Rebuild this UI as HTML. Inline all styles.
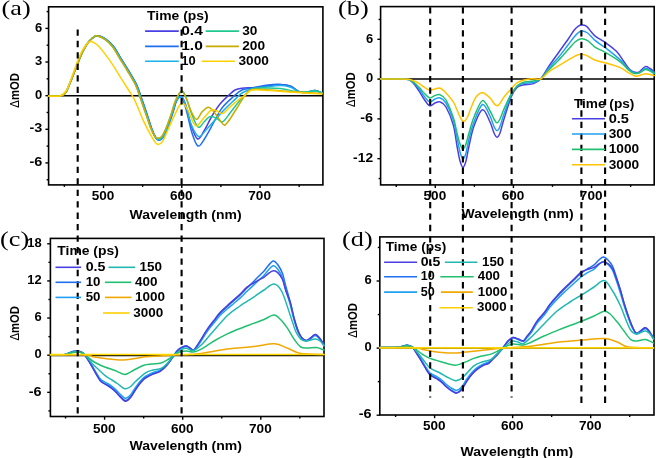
<!DOCTYPE html><html><head><meta charset="utf-8"><style>html,body{margin:0;padding:0;background:#fff;width:656px;height:458px;overflow:hidden}svg{display:block;will-change:transform}</style></head><body>
<svg width="656" height="458" viewBox="0 0 656 458">
<rect width="656" height="458" fill="#fff"/>
<rect x="48.60" y="6.80" width="274.30" height="178.10" fill="none" stroke="#000" stroke-width="1.6"/>
<line x1="45.40" y1="28.39" x2="48.60" y2="28.39" stroke="#000" stroke-width="1.4"/>
<text x="42.20" y="31.59" font-size="12.2" font-weight="bold" font-family="Liberation Sans" text-anchor="end" textLength="7.2" lengthAdjust="spacingAndGlyphs" >6</text>
<line x1="45.40" y1="62.02" x2="48.60" y2="62.02" stroke="#000" stroke-width="1.4"/>
<text x="42.20" y="65.22" font-size="12.2" font-weight="bold" font-family="Liberation Sans" text-anchor="end" textLength="7.2" lengthAdjust="spacingAndGlyphs" >3</text>
<line x1="45.40" y1="95.65" x2="48.60" y2="95.65" stroke="#000" stroke-width="1.4"/>
<text x="42.20" y="98.85" font-size="12.2" font-weight="bold" font-family="Liberation Sans" text-anchor="end" textLength="7.2" lengthAdjust="spacingAndGlyphs" >0</text>
<line x1="45.40" y1="129.28" x2="48.60" y2="129.28" stroke="#000" stroke-width="1.4"/>
<text x="42.20" y="132.48" font-size="12.2" font-weight="bold" font-family="Liberation Sans" text-anchor="end" textLength="12.8" lengthAdjust="spacingAndGlyphs" >-3</text>
<line x1="45.40" y1="162.91" x2="48.60" y2="162.91" stroke="#000" stroke-width="1.4"/>
<text x="42.20" y="166.11" font-size="12.2" font-weight="bold" font-family="Liberation Sans" text-anchor="end" textLength="12.8" lengthAdjust="spacingAndGlyphs" >-6</text>
<line x1="46.60" y1="11.58" x2="48.60" y2="11.58" stroke="#000" stroke-width="1.4"/>
<line x1="46.60" y1="45.20" x2="48.60" y2="45.20" stroke="#000" stroke-width="1.4"/>
<line x1="46.60" y1="78.84" x2="48.60" y2="78.84" stroke="#000" stroke-width="1.4"/>
<line x1="46.60" y1="112.47" x2="48.60" y2="112.47" stroke="#000" stroke-width="1.4"/>
<line x1="46.60" y1="146.10" x2="48.60" y2="146.10" stroke="#000" stroke-width="1.4"/>
<line x1="46.60" y1="179.73" x2="48.60" y2="179.73" stroke="#000" stroke-width="1.4"/>
<line x1="103.50" y1="184.90" x2="103.50" y2="188.10" stroke="#000" stroke-width="1.4"/>
<text x="103.10" y="200.20" font-size="12.2" font-weight="bold" font-family="Liberation Sans" text-anchor="middle" textLength="22.6" lengthAdjust="spacingAndGlyphs" >500</text>
<line x1="181.77" y1="184.90" x2="181.77" y2="188.10" stroke="#000" stroke-width="1.4"/>
<text x="181.37" y="200.20" font-size="12.2" font-weight="bold" font-family="Liberation Sans" text-anchor="middle" textLength="22.6" lengthAdjust="spacingAndGlyphs" >600</text>
<line x1="260.04" y1="184.90" x2="260.04" y2="188.10" stroke="#000" stroke-width="1.4"/>
<text x="259.64" y="200.20" font-size="12.2" font-weight="bold" font-family="Liberation Sans" text-anchor="middle" textLength="22.6" lengthAdjust="spacingAndGlyphs" >700</text>
<line x1="64.37" y1="184.90" x2="64.37" y2="186.90" stroke="#000" stroke-width="1.4"/>
<line x1="142.63" y1="184.90" x2="142.63" y2="186.90" stroke="#000" stroke-width="1.4"/>
<line x1="220.90" y1="184.90" x2="220.90" y2="186.90" stroke="#000" stroke-width="1.4"/>
<line x1="299.17" y1="184.90" x2="299.17" y2="186.90" stroke="#000" stroke-width="1.4"/>
<line x1="48.60" y1="95.65" x2="322.90" y2="95.65" stroke="#000" stroke-width="1.5"/>
<rect x="380.60" y="6.60" width="273.60" height="178.30" fill="none" stroke="#000" stroke-width="1.6"/>
<line x1="377.40" y1="39.32" x2="380.60" y2="39.32" stroke="#000" stroke-width="1.4"/>
<text x="373.10" y="42.52" font-size="12.2" font-weight="bold" font-family="Liberation Sans" text-anchor="end" textLength="7.2" lengthAdjust="spacingAndGlyphs" >6</text>
<line x1="377.40" y1="79.10" x2="380.60" y2="79.10" stroke="#000" stroke-width="1.4"/>
<text x="373.10" y="82.30" font-size="12.2" font-weight="bold" font-family="Liberation Sans" text-anchor="end" textLength="7.2" lengthAdjust="spacingAndGlyphs" >0</text>
<line x1="377.40" y1="118.88" x2="380.60" y2="118.88" stroke="#000" stroke-width="1.4"/>
<text x="373.10" y="122.08" font-size="12.2" font-weight="bold" font-family="Liberation Sans" text-anchor="end" textLength="12.8" lengthAdjust="spacingAndGlyphs" >-6</text>
<line x1="377.40" y1="158.66" x2="380.60" y2="158.66" stroke="#000" stroke-width="1.4"/>
<text x="373.10" y="161.86" font-size="12.2" font-weight="bold" font-family="Liberation Sans" text-anchor="end" textLength="20.0" lengthAdjust="spacingAndGlyphs" >-12</text>
<line x1="378.60" y1="19.43" x2="380.60" y2="19.43" stroke="#000" stroke-width="1.4"/>
<line x1="378.60" y1="59.21" x2="380.60" y2="59.21" stroke="#000" stroke-width="1.4"/>
<line x1="378.60" y1="98.99" x2="380.60" y2="98.99" stroke="#000" stroke-width="1.4"/>
<line x1="378.60" y1="138.77" x2="380.60" y2="138.77" stroke="#000" stroke-width="1.4"/>
<line x1="378.60" y1="178.55" x2="380.60" y2="178.55" stroke="#000" stroke-width="1.4"/>
<line x1="435.30" y1="184.90" x2="435.30" y2="188.10" stroke="#000" stroke-width="1.4"/>
<text x="434.90" y="200.40" font-size="12.2" font-weight="bold" font-family="Liberation Sans" text-anchor="middle" textLength="22.6" lengthAdjust="spacingAndGlyphs" >500</text>
<line x1="513.43" y1="184.90" x2="513.43" y2="188.10" stroke="#000" stroke-width="1.4"/>
<text x="513.03" y="200.40" font-size="12.2" font-weight="bold" font-family="Liberation Sans" text-anchor="middle" textLength="22.6" lengthAdjust="spacingAndGlyphs" >600</text>
<line x1="591.56" y1="184.90" x2="591.56" y2="188.10" stroke="#000" stroke-width="1.4"/>
<text x="591.16" y="200.40" font-size="12.2" font-weight="bold" font-family="Liberation Sans" text-anchor="middle" textLength="22.6" lengthAdjust="spacingAndGlyphs" >700</text>
<line x1="396.24" y1="184.90" x2="396.24" y2="186.90" stroke="#000" stroke-width="1.4"/>
<line x1="474.37" y1="184.90" x2="474.37" y2="186.90" stroke="#000" stroke-width="1.4"/>
<line x1="552.50" y1="184.90" x2="552.50" y2="186.90" stroke="#000" stroke-width="1.4"/>
<line x1="630.62" y1="184.90" x2="630.62" y2="186.90" stroke="#000" stroke-width="1.4"/>
<line x1="380.60" y1="79.10" x2="654.20" y2="79.10" stroke="#000" stroke-width="1.5"/>
<rect x="50.40" y="238.40" width="273.60" height="178.10" fill="none" stroke="#000" stroke-width="1.6"/>
<line x1="47.20" y1="243.78" x2="50.40" y2="243.78" stroke="#000" stroke-width="1.4"/>
<text x="41.60" y="246.98" font-size="12.2" font-weight="bold" font-family="Liberation Sans" text-anchor="end" textLength="14.4" lengthAdjust="spacingAndGlyphs" >18</text>
<line x1="47.20" y1="280.92" x2="50.40" y2="280.92" stroke="#000" stroke-width="1.4"/>
<text x="41.60" y="284.12" font-size="12.2" font-weight="bold" font-family="Liberation Sans" text-anchor="end" textLength="14.4" lengthAdjust="spacingAndGlyphs" >12</text>
<line x1="47.20" y1="318.06" x2="50.40" y2="318.06" stroke="#000" stroke-width="1.4"/>
<text x="41.60" y="321.26" font-size="12.2" font-weight="bold" font-family="Liberation Sans" text-anchor="end" textLength="7.2" lengthAdjust="spacingAndGlyphs" >6</text>
<line x1="47.20" y1="355.20" x2="50.40" y2="355.20" stroke="#000" stroke-width="1.4"/>
<text x="41.60" y="358.40" font-size="12.2" font-weight="bold" font-family="Liberation Sans" text-anchor="end" textLength="7.2" lengthAdjust="spacingAndGlyphs" >0</text>
<line x1="47.20" y1="392.34" x2="50.40" y2="392.34" stroke="#000" stroke-width="1.4"/>
<text x="41.60" y="395.54" font-size="12.2" font-weight="bold" font-family="Liberation Sans" text-anchor="end" textLength="12.8" lengthAdjust="spacingAndGlyphs" >-6</text>
<line x1="48.40" y1="262.35" x2="50.40" y2="262.35" stroke="#000" stroke-width="1.4"/>
<line x1="48.40" y1="299.49" x2="50.40" y2="299.49" stroke="#000" stroke-width="1.4"/>
<line x1="48.40" y1="336.63" x2="50.40" y2="336.63" stroke="#000" stroke-width="1.4"/>
<line x1="48.40" y1="373.77" x2="50.40" y2="373.77" stroke="#000" stroke-width="1.4"/>
<line x1="48.40" y1="410.91" x2="50.40" y2="410.91" stroke="#000" stroke-width="1.4"/>
<line x1="104.60" y1="416.50" x2="104.60" y2="419.70" stroke="#000" stroke-width="1.4"/>
<text x="104.20" y="432.60" font-size="12.2" font-weight="bold" font-family="Liberation Sans" text-anchor="middle" textLength="22.6" lengthAdjust="spacingAndGlyphs" >500</text>
<line x1="182.70" y1="416.50" x2="182.70" y2="419.70" stroke="#000" stroke-width="1.4"/>
<text x="182.30" y="432.60" font-size="12.2" font-weight="bold" font-family="Liberation Sans" text-anchor="middle" textLength="22.6" lengthAdjust="spacingAndGlyphs" >600</text>
<line x1="260.80" y1="416.50" x2="260.80" y2="419.70" stroke="#000" stroke-width="1.4"/>
<text x="260.40" y="432.60" font-size="12.2" font-weight="bold" font-family="Liberation Sans" text-anchor="middle" textLength="22.6" lengthAdjust="spacingAndGlyphs" >700</text>
<line x1="65.55" y1="416.50" x2="65.55" y2="418.50" stroke="#000" stroke-width="1.4"/>
<line x1="143.65" y1="416.50" x2="143.65" y2="418.50" stroke="#000" stroke-width="1.4"/>
<line x1="221.75" y1="416.50" x2="221.75" y2="418.50" stroke="#000" stroke-width="1.4"/>
<line x1="299.85" y1="416.50" x2="299.85" y2="418.50" stroke="#000" stroke-width="1.4"/>
<line x1="50.40" y1="355.60" x2="324.00" y2="355.60" stroke="#000" stroke-width="1.5"/>
<rect x="379.80" y="236.90" width="274.20" height="178.10" fill="none" stroke="#000" stroke-width="1.6"/>
<line x1="376.60" y1="281.02" x2="379.80" y2="281.02" stroke="#000" stroke-width="1.4"/>
<text x="371.60" y="284.22" font-size="12.2" font-weight="bold" font-family="Liberation Sans" text-anchor="end" textLength="7.2" lengthAdjust="spacingAndGlyphs" >6</text>
<line x1="376.60" y1="348.10" x2="379.80" y2="348.10" stroke="#000" stroke-width="1.4"/>
<text x="371.60" y="351.30" font-size="12.2" font-weight="bold" font-family="Liberation Sans" text-anchor="end" textLength="7.2" lengthAdjust="spacingAndGlyphs" >0</text>
<line x1="376.60" y1="415.18" x2="379.80" y2="415.18" stroke="#000" stroke-width="1.4"/>
<text x="371.60" y="418.38" font-size="12.2" font-weight="bold" font-family="Liberation Sans" text-anchor="end" textLength="12.8" lengthAdjust="spacingAndGlyphs" >-6</text>
<line x1="377.80" y1="247.48" x2="379.80" y2="247.48" stroke="#000" stroke-width="1.4"/>
<line x1="377.80" y1="314.56" x2="379.80" y2="314.56" stroke="#000" stroke-width="1.4"/>
<line x1="377.80" y1="381.64" x2="379.80" y2="381.64" stroke="#000" stroke-width="1.4"/>
<line x1="434.60" y1="415.00" x2="434.60" y2="418.20" stroke="#000" stroke-width="1.4"/>
<text x="434.20" y="430.20" font-size="12.2" font-weight="bold" font-family="Liberation Sans" text-anchor="middle" textLength="22.6" lengthAdjust="spacingAndGlyphs" >500</text>
<line x1="512.63" y1="415.00" x2="512.63" y2="418.20" stroke="#000" stroke-width="1.4"/>
<text x="512.23" y="430.20" font-size="12.2" font-weight="bold" font-family="Liberation Sans" text-anchor="middle" textLength="22.6" lengthAdjust="spacingAndGlyphs" >600</text>
<line x1="590.66" y1="415.00" x2="590.66" y2="418.20" stroke="#000" stroke-width="1.4"/>
<text x="590.26" y="430.20" font-size="12.2" font-weight="bold" font-family="Liberation Sans" text-anchor="middle" textLength="22.6" lengthAdjust="spacingAndGlyphs" >700</text>
<line x1="395.59" y1="415.00" x2="395.59" y2="417.00" stroke="#000" stroke-width="1.4"/>
<line x1="473.62" y1="415.00" x2="473.62" y2="417.00" stroke="#000" stroke-width="1.4"/>
<line x1="551.64" y1="415.00" x2="551.64" y2="417.00" stroke="#000" stroke-width="1.4"/>
<line x1="629.67" y1="415.00" x2="629.67" y2="417.00" stroke="#000" stroke-width="1.4"/>
<line x1="379.80" y1="348.10" x2="654.00" y2="348.10" stroke="#000" stroke-width="1.5"/>
<path d="M48.60 96.00 C50.17 96.00 55.77 96.08 58.00 96.00 C60.23 95.92 60.67 96.17 62.00 95.50 C63.33 94.83 64.67 94.08 66.00 92.00 C67.33 89.92 68.67 86.17 70.00 83.00 C71.33 79.83 72.75 76.17 74.00 73.00 C75.25 69.83 76.17 67.33 77.50 64.00 C78.83 60.67 80.42 56.33 82.00 53.00 C83.58 49.67 85.33 46.42 87.00 44.00 C88.67 41.58 90.25 39.87 92.00 38.50 C93.75 37.13 95.25 35.68 97.50 35.80 C99.75 35.92 102.83 37.37 105.50 39.20 C108.17 41.03 110.92 43.50 113.50 46.80 C116.08 50.10 118.50 54.97 121.00 59.00 C123.50 63.03 125.92 66.67 128.50 71.00 C131.08 75.33 134.50 80.83 136.50 85.00 C138.50 89.17 139.33 92.77 140.50 96.00 C141.67 99.23 142.33 101.00 143.50 104.40 C144.67 107.80 146.17 112.40 147.50 116.41 C148.83 120.43 150.17 125.02 151.50 128.50 C152.83 131.98 154.33 135.37 155.50 137.29 C156.67 139.20 157.33 139.90 158.50 140.00 C159.67 140.10 161.05 139.85 162.50 137.91 C163.95 135.98 165.53 132.53 167.20 128.38 C168.87 124.23 170.95 117.65 172.50 113.00 C174.05 108.35 175.00 103.25 176.50 100.50 C178.00 97.75 179.92 95.58 181.50 96.50 C183.08 97.42 184.42 101.25 186.00 106.00 C187.58 110.75 189.08 119.50 191.00 125.00 C192.92 130.50 195.33 138.00 197.50 139.00 C199.67 140.00 201.58 134.83 204.00 131.00 C206.42 127.17 209.33 120.50 212.00 116.00 C214.67 111.50 217.25 107.42 220.00 104.00 C222.75 100.58 226.00 97.83 228.50 95.50 C231.00 93.17 232.75 91.22 235.00 90.00 C237.25 88.78 238.67 88.62 242.00 88.20 C245.33 87.78 250.67 87.87 255.00 87.50 C259.33 87.13 263.83 86.50 268.00 86.00 C272.17 85.50 276.33 84.50 280.00 84.50 C283.67 84.50 286.67 84.75 290.00 86.00 C293.33 87.25 297.00 91.00 300.00 92.00 C303.00 93.00 305.50 92.25 308.00 92.00 C310.50 91.75 312.67 90.33 315.00 90.50 C317.33 90.67 320.83 92.58 322.00 93.00" fill="none" stroke="#4a3fe0" stroke-width="1.5" stroke-linejoin="round" stroke-linecap="round"/>
<path d="M48.60 96.00 C50.17 96.00 55.77 96.08 58.00 96.00 C60.23 95.92 60.67 96.17 62.00 95.50 C63.33 94.83 64.67 94.08 66.00 92.00 C67.33 89.92 68.67 86.17 70.00 83.00 C71.33 79.83 72.75 76.17 74.00 73.00 C75.25 69.83 76.17 67.33 77.50 64.00 C78.83 60.67 80.42 56.33 82.00 53.00 C83.58 49.67 85.33 46.42 87.00 44.00 C88.67 41.58 90.20 39.87 92.00 38.50 C93.80 37.13 95.50 35.68 97.80 35.80 C100.10 35.92 103.13 37.37 105.80 39.20 C108.47 41.03 111.22 43.50 113.80 46.80 C116.38 50.10 118.80 54.97 121.30 59.00 C123.80 63.03 126.22 66.67 128.80 71.00 C131.38 75.33 134.80 80.83 136.80 85.00 C138.80 89.17 139.63 92.77 140.80 96.00 C141.97 99.23 142.63 100.99 143.80 104.40 C144.97 107.81 146.47 112.44 147.80 116.48 C149.13 120.52 150.47 125.14 151.80 128.65 C153.13 132.16 154.63 135.58 155.80 137.52 C156.97 139.46 157.63 140.20 158.80 140.30 C159.97 140.40 161.35 140.10 162.80 138.13 C164.25 136.16 165.83 132.68 167.50 128.49 C169.17 124.30 171.25 117.67 172.80 113.00 C174.35 108.33 175.35 103.08 176.80 100.50 C178.25 97.92 179.97 96.08 181.50 97.50 C183.03 98.92 184.25 103.08 186.00 109.00 C187.75 114.92 190.00 126.83 192.00 133.00 C194.00 139.17 195.83 145.17 198.00 146.00 C200.17 146.83 202.33 142.00 205.00 138.00 C207.67 134.00 211.17 127.00 214.00 122.00 C216.83 117.00 218.83 112.17 222.00 108.00 C225.17 103.83 229.67 100.00 233.00 97.00 C236.33 94.00 238.33 91.58 242.00 90.00 C245.67 88.42 250.67 88.33 255.00 87.50 C259.33 86.67 263.83 85.52 268.00 85.00 C272.17 84.48 276.33 84.23 280.00 84.40 C283.67 84.57 286.67 84.73 290.00 86.00 C293.33 87.27 297.00 91.00 300.00 92.00 C303.00 93.00 305.50 92.25 308.00 92.00 C310.50 91.75 312.67 90.33 315.00 90.50 C317.33 90.67 320.83 92.58 322.00 93.00" fill="none" stroke="#1f6ff0" stroke-width="1.5" stroke-linejoin="round" stroke-linecap="round"/>
<path d="M48.60 96.00 C50.17 96.00 55.77 96.08 58.00 96.00 C60.23 95.92 60.67 96.17 62.00 95.50 C63.33 94.83 64.67 94.08 66.00 92.00 C67.33 89.92 68.67 86.17 70.00 83.00 C71.33 79.83 72.75 76.17 74.00 73.00 C75.25 69.83 76.17 67.33 77.50 64.00 C78.83 60.67 80.42 56.33 82.00 53.00 C83.58 49.67 85.33 46.42 87.00 44.00 C88.67 41.58 90.28 39.87 92.00 38.50 C93.72 37.13 95.08 35.68 97.30 35.80 C99.52 35.92 102.63 37.37 105.30 39.20 C107.97 41.03 110.72 43.50 113.30 46.80 C115.88 50.10 118.30 54.97 120.80 59.00 C123.30 63.03 125.72 66.67 128.30 71.00 C130.88 75.33 134.30 80.83 136.30 85.00 C138.30 89.17 139.13 92.77 140.30 96.00 C141.47 99.23 142.13 101.01 143.30 104.40 C144.47 107.79 145.97 112.36 147.30 116.35 C148.63 120.34 149.97 124.90 151.30 128.35 C152.63 131.80 154.13 135.16 155.30 137.05 C156.47 138.94 157.13 139.59 158.30 139.70 C159.47 139.81 160.85 139.61 162.30 137.70 C163.75 135.79 165.33 132.38 167.00 128.26 C168.67 124.15 170.75 117.63 172.30 113.00 C173.85 108.37 174.77 103.17 176.30 100.50 C177.83 97.83 179.88 96.08 181.50 97.00 C183.12 97.92 184.42 101.50 186.00 106.00 C187.58 110.50 188.90 118.92 191.00 124.00 C193.10 129.08 196.10 135.50 198.60 136.50 C201.10 137.50 203.27 132.75 206.00 130.00 C208.73 127.25 211.83 123.50 215.00 120.00 C218.17 116.50 221.67 112.43 225.00 109.00 C228.33 105.57 232.17 102.07 235.00 99.40 C237.83 96.73 239.17 94.73 242.00 93.00 C244.83 91.27 248.17 90.00 252.00 89.00 C255.83 88.00 260.33 87.58 265.00 87.00 C269.67 86.42 275.83 85.50 280.00 85.50 C284.17 85.50 286.67 85.92 290.00 87.00 C293.33 88.08 297.00 91.17 300.00 92.00 C303.00 92.83 305.50 92.25 308.00 92.00 C310.50 91.75 312.67 90.33 315.00 90.50 C317.33 90.67 320.83 92.58 322.00 93.00" fill="none" stroke="#1ab0e8" stroke-width="1.5" stroke-linejoin="round" stroke-linecap="round"/>
<path d="M48.60 96.00 C50.17 96.00 55.77 96.08 58.00 96.00 C60.23 95.92 60.67 96.17 62.00 95.50 C63.33 94.83 64.67 94.08 66.00 92.00 C67.33 89.92 68.67 86.17 70.00 83.00 C71.33 79.83 72.75 76.17 74.00 73.00 C75.25 69.83 76.17 67.33 77.50 64.00 C78.83 60.67 80.42 56.33 82.00 53.00 C83.58 49.67 85.33 46.42 87.00 44.00 C88.67 41.58 90.38 39.87 92.00 38.50 C93.62 37.13 94.58 35.68 96.70 35.80 C98.82 35.92 102.03 37.37 104.70 39.20 C107.37 41.03 110.12 43.50 112.70 46.80 C115.28 50.10 117.70 54.97 120.20 59.00 C122.70 63.03 125.12 66.67 127.70 71.00 C130.28 75.33 133.70 80.83 135.70 85.00 C137.70 89.17 138.53 92.77 139.70 96.00 C140.87 99.23 141.53 101.05 142.70 104.40 C143.87 107.75 145.37 112.19 146.70 116.07 C148.03 119.95 149.37 124.37 150.70 127.70 C152.03 131.03 153.53 134.25 154.70 136.03 C155.87 137.81 156.53 138.28 157.70 138.40 C158.87 138.52 160.25 138.54 161.70 136.77 C163.15 135.00 164.73 131.73 166.40 127.77 C168.07 123.81 170.15 117.55 171.70 113.00 C173.25 108.45 174.02 104.12 175.70 100.50 C177.38 96.88 180.08 91.88 181.80 91.30 C183.52 90.72 184.47 93.55 186.00 97.00 C187.53 100.45 189.00 107.00 191.00 112.00 C193.00 117.00 195.83 125.33 198.00 127.00 C200.17 128.67 202.03 123.73 204.00 122.00 C205.97 120.27 207.80 117.27 209.80 116.60 C211.80 115.93 213.88 117.13 216.00 118.00 C218.12 118.87 220.17 122.63 222.50 121.80 C224.83 120.97 227.58 115.97 230.00 113.00 C232.42 110.03 234.58 106.92 237.00 104.00 C239.42 101.08 242.00 98.00 244.50 95.50 C247.00 93.00 248.58 90.25 252.00 89.00 C255.42 87.75 260.33 88.08 265.00 88.00 C269.67 87.92 274.17 87.83 280.00 88.50 C285.83 89.17 294.17 91.58 300.00 92.00 C305.83 92.42 311.33 90.83 315.00 91.00 C318.67 91.17 320.83 92.67 322.00 93.00" fill="none" stroke="#20c890" stroke-width="1.5" stroke-linejoin="round" stroke-linecap="round"/>
<path d="M48.60 96.00 C50.17 96.00 55.77 96.08 58.00 96.00 C60.23 95.92 60.67 96.17 62.00 95.50 C63.33 94.83 64.67 94.08 66.00 92.00 C67.33 89.92 68.67 86.17 70.00 83.00 C71.33 79.83 72.75 76.17 74.00 73.00 C75.25 69.83 76.17 67.33 77.50 64.00 C78.83 60.67 80.42 56.33 82.00 53.00 C83.58 49.67 85.33 46.42 87.00 44.00 C88.67 41.58 90.42 39.87 92.00 38.50 C93.58 37.13 94.42 35.68 96.50 35.80 C98.58 35.92 101.83 37.37 104.50 39.20 C107.17 41.03 109.92 43.50 112.50 46.80 C115.08 50.10 117.50 54.97 120.00 59.00 C122.50 63.03 124.92 66.67 127.50 71.00 C130.08 75.33 133.50 80.83 135.50 85.00 C137.50 89.17 138.33 92.77 139.50 96.00 C140.67 99.23 141.33 101.06 142.50 104.40 C143.67 107.74 145.17 112.16 146.50 116.03 C147.83 119.90 149.17 124.29 150.50 127.60 C151.83 130.91 153.33 134.10 154.50 135.87 C155.67 137.64 156.33 138.07 157.50 138.20 C158.67 138.33 160.05 138.38 161.50 136.63 C162.95 134.88 164.53 131.64 166.20 127.70 C167.87 123.76 169.95 117.53 171.50 113.00 C173.05 108.47 173.83 104.17 175.50 100.50 C177.17 96.83 179.75 91.42 181.50 91.00 C183.25 90.58 184.42 94.67 186.00 98.00 C187.58 101.33 189.25 107.45 191.00 111.00 C192.75 114.55 194.67 119.13 196.50 119.30 C198.33 119.47 200.02 114.00 202.00 112.00 C203.98 110.00 206.40 107.30 208.40 107.30 C210.40 107.30 211.53 109.17 214.00 112.00 C216.47 114.83 221.20 122.30 223.20 124.30 C225.20 126.30 224.87 124.88 226.00 124.00 C227.13 123.12 228.17 121.67 230.00 119.00 C231.83 116.33 234.50 111.92 237.00 108.00 C239.50 104.08 242.50 98.58 245.00 95.50 C247.50 92.42 247.83 90.42 252.00 89.50 C256.17 88.58 263.67 89.67 270.00 90.00 C276.33 90.33 281.33 90.92 290.00 91.50 C298.67 92.08 316.67 93.17 322.00 93.50" fill="none" stroke="#c8ac00" stroke-width="1.5" stroke-linejoin="round" stroke-linecap="round"/>
<path d="M48.60 96.00 C50.50 96.00 57.10 96.83 60.00 96.00 C62.90 95.17 64.33 93.33 66.00 91.00 C67.67 88.67 68.67 85.33 70.00 82.00 C71.33 78.67 72.67 74.67 74.00 71.00 C75.33 67.33 76.67 63.33 78.00 60.00 C79.33 56.67 80.67 53.50 82.00 51.00 C83.33 48.50 84.57 46.60 86.00 45.00 C87.43 43.40 88.67 41.35 90.60 41.40 C92.53 41.45 95.15 43.13 97.60 45.30 C100.05 47.47 102.75 51.10 105.30 54.40 C107.85 57.70 110.37 61.28 112.90 65.10 C115.43 68.92 117.95 73.23 120.50 77.30 C123.05 81.37 126.17 86.32 128.20 89.50 C130.23 92.68 131.30 93.92 132.70 96.40 C134.10 98.88 134.87 100.45 136.60 104.40 C138.33 108.35 140.92 115.30 143.10 120.10 C145.28 124.90 147.73 129.58 149.70 133.20 C151.67 136.82 153.48 139.93 154.90 141.80 C156.32 143.67 156.88 144.52 158.20 144.40 C159.52 144.28 160.95 144.05 162.80 141.10 C164.65 138.15 167.12 131.50 169.30 126.70 C171.48 121.90 173.82 116.23 175.90 112.30 C177.98 108.37 179.83 103.53 181.80 103.10 C183.77 102.67 185.83 106.55 187.70 109.70 C189.57 112.85 191.45 119.28 193.00 122.00 C194.55 124.72 195.33 126.50 197.00 126.00 C198.67 125.50 200.62 121.63 203.00 119.00 C205.38 116.37 208.97 111.53 211.30 110.20 C213.63 108.87 215.13 110.43 217.00 111.00 C218.87 111.57 220.33 114.27 222.50 113.60 C224.67 112.93 227.58 109.10 230.00 107.00 C232.42 104.90 234.50 102.92 237.00 101.00 C239.50 99.08 242.50 97.33 245.00 95.50 C247.50 93.67 247.83 90.83 252.00 90.00 C256.17 89.17 263.67 90.17 270.00 90.50 C276.33 90.83 281.33 91.42 290.00 92.00 C298.67 92.58 316.67 93.67 322.00 94.00" fill="none" stroke="#ffd000" stroke-width="1.5" stroke-linejoin="round" stroke-linecap="round"/>
<path d="M380.60 79.00 C383.83 79.00 395.30 78.92 400.00 79.00 C404.70 79.08 406.47 78.67 408.80 79.50 C411.13 80.33 412.25 82.02 414.00 84.00 C415.75 85.98 417.63 88.90 419.30 91.40 C420.97 93.90 422.27 96.60 424.00 99.00 C425.73 101.40 427.87 105.13 429.70 105.80 C431.53 106.47 433.25 103.65 435.00 103.00 C436.75 102.35 438.37 101.23 440.20 101.90 C442.03 102.57 443.82 103.15 446.00 107.00 C448.18 110.85 451.47 118.50 453.30 125.00 C455.13 131.50 455.88 140.00 457.00 146.00 C458.12 152.00 459.00 157.45 460.00 161.00 C461.00 164.55 462.00 167.30 463.00 167.30 C464.00 167.30 465.00 164.55 466.00 161.00 C467.00 157.45 467.67 151.83 469.00 146.00 C470.33 140.17 471.75 132.05 474.00 126.00 C476.25 119.95 479.83 110.37 482.50 109.70 C485.17 109.03 488.08 118.12 490.00 122.00 C491.92 125.88 492.83 130.47 494.00 133.00 C495.17 135.53 496.00 137.20 497.00 137.20 C498.00 137.20 498.83 136.03 500.00 133.00 C501.17 129.97 502.12 125.07 504.00 119.00 C505.88 112.93 509.13 101.85 511.30 96.60 C513.47 91.35 515.05 89.45 517.00 87.50 C518.95 85.55 520.25 85.55 523.00 84.90 C525.75 84.25 530.57 84.58 533.50 83.60 C536.43 82.62 537.98 81.98 540.60 79.00 C543.22 76.02 546.17 70.17 549.20 65.70 C552.23 61.23 555.60 56.68 558.80 52.20 C562.00 47.72 565.85 42.47 568.40 38.80 C570.95 35.13 572.50 32.28 574.10 30.20 C575.70 28.12 576.72 27.17 578.00 26.30 C579.28 25.43 580.37 25.00 581.80 25.00 C583.23 25.00 585.00 25.12 586.60 26.30 C588.20 27.48 589.80 30.33 591.40 32.10 C593.00 33.87 593.95 35.22 596.20 36.90 C598.45 38.58 601.53 39.80 604.90 42.20 C608.27 44.60 613.22 48.03 616.40 51.30 C619.58 54.57 621.77 58.77 624.00 61.80 C626.23 64.83 627.87 67.73 629.80 69.50 C631.73 71.27 634.00 72.02 635.60 72.40 C637.20 72.78 637.80 72.77 639.40 71.80 C641.00 70.83 643.43 67.15 645.20 66.60 C646.97 66.05 648.50 67.63 650.00 68.50 C651.50 69.37 653.50 71.25 654.20 71.80" fill="none" stroke="#4a3fe0" stroke-width="1.5" stroke-linejoin="round" stroke-linecap="round"/>
<path d="M380.60 79.00 C383.83 79.00 395.30 78.92 400.00 79.00 C404.70 79.08 406.47 78.83 408.80 79.50 C411.13 80.17 412.25 81.42 414.00 83.00 C415.75 84.58 417.63 86.83 419.30 89.00 C420.97 91.17 422.27 93.85 424.00 96.00 C425.73 98.15 427.87 101.40 429.70 101.90 C431.53 102.40 433.25 99.65 435.00 99.00 C436.75 98.35 438.37 97.33 440.20 98.00 C442.03 98.67 443.82 99.33 446.00 103.00 C448.18 106.67 451.47 114.17 453.30 120.00 C455.13 125.83 455.88 132.67 457.00 138.00 C458.12 143.33 459.00 148.50 460.00 152.00 C461.00 155.50 462.00 158.83 463.00 159.00 C464.00 159.17 465.00 156.33 466.00 153.00 C467.00 149.67 467.67 144.17 469.00 139.00 C470.33 133.83 471.75 127.75 474.00 122.00 C476.25 116.25 479.83 105.50 482.50 104.50 C485.17 103.50 488.08 112.33 490.00 116.00 C491.92 119.67 492.83 124.05 494.00 126.50 C495.17 128.95 496.00 130.70 497.00 130.70 C498.00 130.70 498.83 129.28 500.00 126.50 C501.17 123.72 502.12 119.25 504.00 114.00 C505.88 108.75 509.13 99.67 511.30 95.00 C513.47 90.33 515.05 87.92 517.00 86.00 C518.95 84.08 520.25 84.08 523.00 83.50 C525.75 82.92 530.57 83.25 533.50 82.50 C536.43 81.75 537.98 81.50 540.60 79.00 C543.22 76.50 546.17 71.17 549.20 67.50 C552.23 63.83 555.60 60.83 558.80 57.00 C562.00 53.17 565.70 48.00 568.40 44.50 C571.10 41.00 572.87 38.23 575.00 36.00 C577.13 33.77 579.10 31.60 581.20 31.10 C583.30 30.60 585.25 31.40 587.60 33.00 C589.95 34.60 592.42 38.30 595.30 40.70 C598.18 43.10 600.75 44.20 604.90 47.40 C609.05 50.60 616.37 56.38 620.20 59.90 C624.03 63.42 625.33 66.27 627.90 68.50 C630.47 70.73 633.58 72.63 635.60 73.30 C637.62 73.97 638.40 73.30 640.00 72.50 C641.60 71.70 643.53 68.92 645.20 68.50 C646.87 68.08 648.50 69.25 650.00 70.00 C651.50 70.75 653.50 72.50 654.20 73.00" fill="none" stroke="#20a0f0" stroke-width="1.5" stroke-linejoin="round" stroke-linecap="round"/>
<path d="M380.60 79.00 C383.83 79.00 395.30 78.92 400.00 79.00 C404.70 79.08 406.47 78.92 408.80 79.50 C411.13 80.08 412.25 81.17 414.00 82.50 C415.75 83.83 417.63 85.75 419.30 87.50 C420.97 89.25 422.27 91.25 424.00 93.00 C425.73 94.75 427.87 97.58 429.70 98.00 C431.53 98.42 433.25 96.03 435.00 95.50 C436.75 94.97 438.37 94.05 440.20 94.80 C442.03 95.55 443.82 96.20 446.00 100.00 C448.18 103.80 451.47 112.10 453.30 117.60 C455.13 123.10 455.88 128.60 457.00 133.00 C458.12 137.40 459.02 141.33 460.00 144.00 C460.98 146.67 461.90 149.00 462.90 149.00 C463.90 149.00 464.98 146.67 466.00 144.00 C467.02 141.33 467.67 137.50 469.00 133.00 C470.33 128.50 471.75 122.40 474.00 117.00 C476.25 111.60 479.83 101.60 482.50 100.60 C485.17 99.60 488.08 107.93 490.00 111.00 C491.92 114.07 492.83 117.03 494.00 119.00 C495.17 120.97 496.00 122.80 497.00 122.80 C498.00 122.80 498.83 121.30 500.00 119.00 C501.17 116.70 502.12 113.17 504.00 109.00 C505.88 104.83 508.57 98.23 511.30 94.00 C514.03 89.77 516.70 85.77 520.40 83.60 C524.10 81.43 530.13 81.77 533.50 81.00 C536.87 80.23 537.98 80.92 540.60 79.00 C543.22 77.08 546.17 72.68 549.20 69.50 C552.23 66.32 555.60 63.27 558.80 59.90 C562.00 56.53 565.70 52.28 568.40 49.30 C571.10 46.32 572.87 43.75 575.00 42.00 C577.13 40.25 579.10 39.02 581.20 38.80 C583.30 38.58 585.25 39.27 587.60 40.70 C589.95 42.13 592.42 45.48 595.30 47.40 C598.18 49.32 600.75 49.80 604.90 52.20 C609.05 54.60 616.37 58.92 620.20 61.80 C624.03 64.68 625.67 67.58 627.90 69.50 C630.13 71.42 631.58 72.80 633.60 73.30 C635.62 73.80 638.07 73.13 640.00 72.50 C641.93 71.87 643.53 69.75 645.20 69.50 C646.87 69.25 648.50 70.33 650.00 71.00 C651.50 71.67 653.50 73.08 654.20 73.50" fill="none" stroke="#20c070" stroke-width="1.5" stroke-linejoin="round" stroke-linecap="round"/>
<path d="M380.60 79.00 C383.83 79.00 395.30 78.95 400.00 79.00 C404.70 79.05 406.47 78.97 408.80 79.30 C411.13 79.63 412.25 80.28 414.00 81.00 C415.75 81.72 417.63 82.60 419.30 83.60 C420.97 84.60 422.27 85.92 424.00 87.00 C425.73 88.08 427.87 89.77 429.70 90.10 C431.53 90.43 433.25 89.30 435.00 89.00 C436.75 88.70 438.37 87.63 440.20 88.30 C442.03 88.97 443.82 90.73 446.00 93.00 C448.18 95.27 451.47 99.07 453.30 101.90 C455.13 104.73 455.80 107.32 457.00 110.00 C458.20 112.68 459.33 116.08 460.50 118.00 C461.67 119.92 462.83 121.67 464.00 121.50 C465.17 121.33 466.33 119.25 467.50 117.00 C468.67 114.75 469.58 111.33 471.00 108.00 C472.42 104.67 474.08 99.55 476.00 97.00 C477.92 94.45 480.17 92.53 482.50 92.70 C484.83 92.87 488.08 96.20 490.00 98.00 C491.92 99.80 492.83 102.20 494.00 103.50 C495.17 104.80 496.00 105.80 497.00 105.80 C498.00 105.80 498.83 104.97 500.00 103.50 C501.17 102.03 502.12 99.45 504.00 97.00 C505.88 94.55 509.00 91.25 511.30 88.80 C513.60 86.35 514.53 83.97 517.80 82.30 C521.07 80.63 527.10 79.35 530.90 78.80 C534.70 78.25 537.55 80.23 540.60 79.00 C543.65 77.77 546.17 73.62 549.20 71.40 C552.23 69.18 555.60 67.62 558.80 65.70 C562.00 63.78 565.87 61.42 568.40 59.90 C570.93 58.38 572.40 57.45 574.00 56.60 C575.60 55.75 576.75 55.20 578.00 54.80 C579.25 54.40 580.33 54.18 581.50 54.20 C582.67 54.22 583.58 54.38 585.00 54.90 C586.42 55.42 588.28 56.40 590.00 57.30 C591.72 58.20 592.82 59.38 595.30 60.30 C597.78 61.22 600.75 61.58 604.90 62.80 C609.05 64.02 616.37 66.00 620.20 67.60 C624.03 69.20 625.33 70.97 627.90 72.40 C630.47 73.83 633.42 75.77 635.60 76.20 C637.78 76.63 639.25 75.42 641.00 75.00 C642.75 74.58 643.90 73.60 646.10 73.70 C648.30 73.80 652.85 75.28 654.20 75.60" fill="none" stroke="#ffc400" stroke-width="1.5" stroke-linejoin="round" stroke-linecap="round"/>
<path d="M50.50 355.00 C52.42 355.00 59.08 355.25 62.00 355.00 C64.92 354.75 66.17 354.08 68.00 353.50 C69.83 352.92 71.38 351.92 73.00 351.50 C74.62 351.08 76.20 350.83 77.70 351.00 C79.20 351.17 80.78 351.83 82.00 352.50 C83.22 353.17 83.83 353.58 85.00 355.00 C86.17 356.42 87.72 358.95 89.00 361.00 C90.28 363.05 91.37 364.97 92.70 367.30 C94.03 369.63 95.58 372.68 97.00 375.00 C98.42 377.32 99.43 379.53 101.20 381.20 C102.97 382.87 105.80 383.87 107.60 385.00 C109.40 386.13 110.57 386.85 112.00 388.00 C113.43 389.15 114.87 390.57 116.20 391.90 C117.53 393.23 118.58 394.58 120.00 396.00 C121.42 397.42 123.37 399.82 124.70 400.40 C126.03 400.98 126.93 400.20 128.00 399.50 C129.07 398.80 129.93 397.78 131.10 396.20 C132.27 394.62 133.58 392.13 135.00 390.00 C136.42 387.87 138.10 385.32 139.60 383.40 C141.10 381.48 142.57 379.75 144.00 378.50 C145.43 377.25 146.70 376.73 148.20 375.90 C149.70 375.07 151.23 374.22 153.00 373.50 C154.77 372.78 157.13 372.43 158.80 371.60 C160.47 370.77 161.57 369.75 163.00 368.50 C164.43 367.25 166.15 365.52 167.40 364.10 C168.65 362.68 169.43 361.48 170.50 360.00 C171.57 358.52 172.55 356.87 173.80 355.20 C175.05 353.53 176.58 351.35 178.00 350.00 C179.42 348.65 180.87 347.77 182.30 347.10 C183.73 346.43 185.32 345.85 186.60 346.00 C187.88 346.15 188.83 347.28 190.00 348.00 C191.17 348.72 192.43 350.55 193.60 350.30 C194.77 350.05 195.73 348.22 197.00 346.50 C198.27 344.78 199.53 342.67 201.20 340.00 C202.87 337.33 204.82 333.70 207.00 330.50 C209.18 327.30 212.13 323.63 214.30 320.80 C216.47 317.97 217.82 315.90 220.00 313.50 C222.18 311.10 225.07 308.57 227.40 306.40 C229.73 304.23 231.82 302.47 234.00 300.50 C236.18 298.53 238.33 296.68 240.50 294.60 C242.67 292.52 244.82 290.18 247.00 288.00 C249.18 285.82 251.60 283.50 253.60 281.50 C255.60 279.50 257.25 277.75 259.00 276.00 C260.75 274.25 262.60 272.67 264.10 271.00 C265.60 269.33 266.47 267.67 268.00 266.00 C269.53 264.33 271.63 261.17 273.30 261.00 C274.97 260.83 276.47 262.90 278.00 265.00 C279.53 267.10 281.17 269.93 282.50 273.60 C283.83 277.27 284.70 282.20 286.00 287.00 C287.30 291.80 288.97 297.23 290.30 302.40 C291.63 307.57 292.68 313.18 294.00 318.00 C295.32 322.82 296.87 327.97 298.20 331.30 C299.53 334.63 300.68 336.48 302.00 338.00 C303.32 339.52 304.77 340.32 306.10 340.40 C307.43 340.48 308.48 339.50 310.00 338.50 C311.52 337.50 313.70 334.57 315.20 334.40 C316.70 334.23 317.53 335.83 319.00 337.50 C320.47 339.17 323.17 343.25 324.00 344.40" fill="none" stroke="#1f6ff0" stroke-width="1.5" stroke-linejoin="round" stroke-linecap="round"/>
<path d="M50.50 354.98 C52.42 354.98 59.08 355.22 62.00 354.98 C64.92 354.74 66.17 354.11 68.00 353.56 C69.83 353.00 71.38 352.05 73.00 351.65 C74.62 351.26 76.20 351.02 77.70 351.18 C79.20 351.34 80.78 351.97 82.00 352.61 C83.22 353.24 83.83 353.63 85.00 354.98 C86.17 356.33 87.72 358.73 89.00 360.68 C90.28 362.63 91.37 364.45 92.70 366.67 C94.03 368.88 95.58 371.78 97.00 373.98 C98.42 376.18 99.43 378.29 101.20 379.87 C102.97 381.45 105.80 382.40 107.60 383.48 C109.40 384.56 110.57 385.24 112.00 386.33 C113.43 387.42 114.87 388.77 116.20 390.03 C117.53 391.30 118.58 392.58 120.00 393.93 C121.42 395.28 123.37 397.56 124.70 398.11 C126.03 398.66 126.93 397.92 128.00 397.25 C129.07 396.59 129.93 395.62 131.10 394.12 C132.27 392.62 133.58 390.26 135.00 388.23 C136.42 386.20 138.10 383.78 139.60 381.96 C141.10 380.14 142.57 378.49 144.00 377.31 C145.43 376.12 146.70 375.63 148.20 374.83 C149.70 374.04 151.23 373.24 153.00 372.56 C154.77 371.87 157.13 371.54 158.80 370.75 C160.47 369.96 161.57 368.99 163.00 367.81 C164.43 366.62 166.15 364.97 167.40 363.62 C168.65 362.28 169.43 361.14 170.50 359.73 C171.57 358.32 172.55 356.75 173.80 355.17 C175.05 353.59 176.58 351.51 178.00 350.23 C179.42 348.95 180.87 348.11 182.30 347.48 C183.73 346.84 185.32 346.29 186.60 346.43 C187.88 346.57 188.83 347.65 190.00 348.33 C191.17 349.01 192.43 350.75 193.60 350.51 C194.77 350.28 195.73 348.54 197.00 346.90 C198.27 345.27 199.53 343.26 201.20 340.73 C202.87 338.20 204.82 334.75 207.00 331.70 C209.18 328.66 212.13 325.18 214.30 322.49 C216.47 319.80 217.82 317.84 220.00 315.56 C222.18 313.27 225.07 310.87 227.40 308.81 C229.73 306.75 231.82 305.07 234.00 303.20 C236.18 301.34 238.33 299.58 240.50 297.60 C242.67 295.62 244.82 293.40 247.00 291.33 C249.18 289.26 251.60 287.05 253.60 285.15 C255.60 283.25 257.25 281.59 259.00 279.93 C260.75 278.27 262.60 276.76 264.10 275.18 C265.60 273.60 266.47 272.01 268.00 270.43 C269.53 268.85 271.63 265.84 273.30 265.68 C274.97 265.52 276.47 267.49 278.00 269.48 C279.53 271.48 281.17 274.17 282.50 277.65 C283.83 281.13 284.70 285.82 286.00 290.38 C287.30 294.94 288.97 300.10 290.30 305.01 C291.63 309.92 292.68 315.25 294.00 319.83 C295.32 324.41 296.87 329.30 298.20 332.47 C299.53 335.63 300.68 337.39 302.00 338.83 C303.32 340.27 304.77 341.03 306.10 341.11 C307.43 341.19 308.48 340.25 310.00 339.31 C311.52 338.36 313.70 335.57 315.20 335.41 C316.70 335.25 317.53 336.77 319.00 338.36 C320.47 339.94 323.17 343.82 324.00 344.91" fill="none" stroke="#20a0f0" stroke-width="1.5" stroke-linejoin="round" stroke-linecap="round"/>
<path d="M50.50 355.00 C52.42 355.00 59.08 355.25 62.00 355.00 C64.92 354.75 66.17 354.08 68.00 353.50 C69.83 352.92 71.38 351.92 73.00 351.50 C74.62 351.08 76.20 350.83 77.70 351.00 C79.20 351.17 80.78 351.73 82.00 352.50 C83.22 353.27 83.83 354.08 85.00 355.60 C86.17 357.12 87.72 359.55 89.00 361.60 C90.28 363.65 91.37 365.57 92.70 367.90 C94.03 370.23 95.58 373.28 97.00 375.60 C98.42 377.92 99.43 380.13 101.20 381.80 C102.97 383.47 105.80 384.47 107.60 385.60 C109.40 386.73 110.57 387.45 112.00 388.60 C113.43 389.75 114.87 391.17 116.20 392.50 C117.53 393.83 118.58 395.18 120.00 396.60 C121.42 398.02 123.37 400.42 124.70 401.00 C126.03 401.58 126.93 400.80 128.00 400.10 C129.07 399.40 129.93 398.38 131.10 396.80 C132.27 395.22 133.58 392.73 135.00 390.60 C136.42 388.47 138.10 385.92 139.60 384.00 C141.10 382.08 142.57 380.35 144.00 379.10 C145.43 377.85 146.70 377.33 148.20 376.50 C149.70 375.67 151.23 374.82 153.00 374.10 C154.77 373.38 157.13 373.03 158.80 372.20 C160.47 371.37 161.57 370.35 163.00 369.10 C164.43 367.85 166.15 366.12 167.40 364.70 C168.65 363.28 169.43 362.08 170.50 360.60 C171.57 359.12 172.55 357.57 173.80 355.80 C175.05 354.03 176.58 351.45 178.00 350.00 C179.42 348.55 180.87 347.77 182.30 347.10 C183.73 346.43 185.32 345.85 186.60 346.00 C187.88 346.15 188.83 347.28 190.00 348.00 C191.17 348.72 192.43 350.70 193.60 350.30 C194.77 349.90 195.73 347.47 197.00 345.60 C198.27 343.73 199.53 341.77 201.20 339.10 C202.87 336.43 204.82 332.80 207.00 329.60 C209.18 326.40 212.13 322.73 214.30 319.90 C216.47 317.07 217.82 315.00 220.00 312.60 C222.18 310.20 225.07 307.67 227.40 305.50 C229.73 303.33 231.82 301.57 234.00 299.60 C236.18 297.63 238.33 295.78 240.50 293.70 C242.67 291.62 244.82 288.87 247.00 287.10 C249.18 285.33 251.60 284.26 253.60 283.07 C255.60 281.87 257.25 280.90 259.00 279.91 C260.75 278.92 262.60 278.14 264.10 277.13 C265.60 276.12 266.47 274.87 268.00 273.83 C269.53 272.78 271.63 271.04 273.30 270.87 C274.97 270.70 276.47 271.39 278.00 272.83 C279.53 274.26 281.17 276.38 282.50 279.47 C283.83 282.56 284.70 287.53 286.00 291.35 C287.30 295.17 288.97 297.96 290.30 302.40 C291.63 306.84 292.68 313.18 294.00 318.00 C295.32 322.82 296.87 327.97 298.20 331.30 C299.53 334.63 300.68 336.48 302.00 338.00 C303.32 339.52 304.77 340.32 306.10 340.40 C307.43 340.48 308.48 339.50 310.00 338.50 C311.52 337.50 313.70 334.57 315.20 334.40 C316.70 334.23 317.53 335.83 319.00 337.50 C320.47 339.17 323.17 343.25 324.00 344.40" fill="none" stroke="#4a3fe0" stroke-width="1.5" stroke-linejoin="round" stroke-linecap="round"/>
<path d="M50.50 355.00 C52.42 355.00 59.08 355.25 62.00 355.00 C64.92 354.75 66.17 354.00 68.00 353.50 C69.83 353.00 71.38 352.33 73.00 352.00 C74.62 351.67 76.20 351.37 77.70 351.50 C79.20 351.63 80.78 352.22 82.00 352.80 C83.22 353.38 83.83 353.88 85.00 355.00 C86.17 356.12 87.72 357.98 89.00 359.50 C90.28 361.02 91.03 362.35 92.70 364.10 C94.37 365.85 96.87 368.03 99.00 370.00 C101.13 371.97 103.33 374.23 105.50 375.90 C107.67 377.57 109.92 378.65 112.00 380.00 C114.08 381.35 115.88 382.55 118.00 384.00 C120.12 385.45 122.70 388.20 124.70 388.70 C126.70 389.20 128.12 388.28 130.00 387.00 C131.88 385.72 133.33 383.38 136.00 381.00 C138.67 378.62 143.17 374.53 146.00 372.70 C148.83 370.87 150.50 370.72 153.00 370.00 C155.50 369.28 158.67 369.40 161.00 368.40 C163.33 367.40 164.87 366.20 167.00 364.00 C169.13 361.80 171.97 357.20 173.80 355.20 C175.63 353.20 176.58 353.03 178.00 352.00 C179.42 350.97 180.87 349.62 182.30 349.00 C183.73 348.38 184.77 348.05 186.60 348.30 C188.43 348.55 190.87 351.05 193.30 350.50 C195.73 349.95 198.42 347.58 201.20 345.00 C203.98 342.42 205.63 339.92 210.00 335.00 C214.37 330.08 222.40 320.33 227.40 315.50 C232.40 310.67 235.63 309.05 240.00 306.00 C244.37 302.95 249.60 299.87 253.60 297.20 C257.60 294.53 260.58 292.18 264.00 290.00 C267.42 287.82 271.10 283.77 274.10 284.10 C277.10 284.43 279.30 286.77 282.00 292.00 C284.70 297.23 287.97 308.83 290.30 315.50 C292.63 322.17 294.25 328.07 296.00 332.00 C297.75 335.93 299.13 337.60 300.80 339.10 C302.47 340.60 303.60 341.00 306.00 341.00 C308.40 341.00 312.87 339.10 315.20 339.10 C317.53 339.10 318.53 339.85 320.00 341.00 C321.47 342.15 323.33 345.17 324.00 346.00" fill="none" stroke="#20b8b0" stroke-width="1.5" stroke-linejoin="round" stroke-linecap="round"/>
<path d="M50.50 355.00 C52.42 355.00 59.08 355.17 62.00 355.00 C64.92 354.83 66.17 354.42 68.00 354.00 C69.83 353.58 71.38 352.83 73.00 352.50 C74.62 352.17 76.20 351.92 77.70 352.00 C79.20 352.08 80.78 352.50 82.00 353.00 C83.22 353.50 83.83 354.17 85.00 355.00 C86.17 355.83 87.72 357.00 89.00 358.00 C90.28 359.00 91.03 359.92 92.70 361.00 C94.37 362.08 96.87 363.45 99.00 364.50 C101.13 365.55 102.83 366.30 105.50 367.30 C108.17 368.30 111.80 369.32 115.00 370.50 C118.20 371.68 121.53 374.48 124.70 374.40 C127.87 374.32 130.80 371.53 134.00 370.00 C137.20 368.47 140.90 366.20 143.90 365.20 C146.90 364.20 149.15 364.37 152.00 364.00 C154.85 363.63 158.33 363.75 161.00 363.00 C163.67 362.25 165.87 360.80 168.00 359.50 C170.13 358.20 171.80 356.45 173.80 355.20 C175.80 353.95 177.87 352.70 180.00 352.00 C182.13 351.30 184.38 351.00 186.60 351.00 C188.82 351.00 190.87 352.32 193.30 352.00 C195.73 351.68 197.75 350.93 201.20 349.10 C204.65 347.27 209.63 343.53 214.00 341.00 C218.37 338.47 223.07 335.98 227.40 333.90 C231.73 331.82 235.63 330.25 240.00 328.50 C244.37 326.75 249.60 324.90 253.60 323.40 C257.60 321.90 260.58 320.90 264.00 319.50 C267.42 318.10 271.27 314.92 274.10 315.00 C276.93 315.08 278.73 317.73 281.00 320.00 C283.27 322.27 285.53 325.43 287.70 328.60 C289.87 331.77 291.82 335.93 294.00 339.00 C296.18 342.07 298.47 345.50 300.80 347.00 C303.13 348.50 305.38 347.92 308.00 348.00 C310.62 348.08 313.83 347.17 316.50 347.50 C319.17 347.83 322.75 349.58 324.00 350.00" fill="none" stroke="#20c070" stroke-width="1.5" stroke-linejoin="round" stroke-linecap="round"/>
<path d="M50.50 355.00 C56.25 355.00 77.97 354.72 85.00 355.00 C92.03 355.28 89.37 356.12 92.70 356.70 C96.03 357.28 100.02 357.97 105.00 358.50 C109.98 359.03 117.60 359.90 122.60 359.90 C127.60 359.90 131.10 359.03 135.00 358.50 C138.90 357.97 141.83 357.12 146.00 356.70 C150.17 356.28 155.37 356.28 160.00 356.00 C164.63 355.72 168.80 355.25 173.80 355.00 C178.80 354.75 185.43 354.75 190.00 354.50 C194.57 354.25 194.97 354.40 201.20 353.50 C207.43 352.60 218.67 350.27 227.40 349.10 C236.13 347.93 245.73 347.38 253.60 346.50 C261.47 345.62 268.92 343.50 274.60 343.80 C280.28 344.10 283.33 346.68 287.70 348.30 C292.07 349.92 294.75 352.47 300.80 353.50 C306.85 354.53 320.13 354.33 324.00 354.50" fill="none" stroke="#f0a800" stroke-width="1.5" stroke-linejoin="round" stroke-linecap="round"/>
<path d="M50.50 354.50 C96.08 354.50 278.42 354.50 324.00 354.50" fill="none" stroke="#ffd800" stroke-width="1.5" stroke-linejoin="round" stroke-linecap="round"/>
<path d="M380.00 347.50 C382.50 347.50 391.33 347.67 395.00 347.50 C398.67 347.33 400.05 346.88 402.00 346.50 C403.95 346.12 405.37 345.28 406.70 345.20 C408.03 345.12 408.93 345.60 410.00 346.00 C411.07 346.40 411.77 346.10 413.10 347.60 C414.43 349.10 416.40 352.48 418.00 355.00 C419.60 357.52 421.37 360.45 422.70 362.70 C424.03 364.95 424.77 366.55 426.00 368.50 C427.23 370.45 428.17 372.70 430.10 374.40 C432.03 376.10 435.62 377.43 437.60 378.70 C439.58 379.97 440.57 380.75 442.00 382.00 C443.43 383.25 444.70 384.87 446.20 386.20 C447.70 387.53 449.40 388.93 451.00 390.00 C452.60 391.07 454.47 392.35 455.80 392.60 C457.13 392.85 457.93 392.22 459.00 391.50 C460.07 390.78 461.03 389.88 462.20 388.30 C463.37 386.72 464.77 383.95 466.00 382.00 C467.23 380.05 468.27 378.35 469.60 376.60 C470.93 374.85 472.57 372.93 474.00 371.50 C475.43 370.07 476.70 369.08 478.20 368.00 C479.70 366.92 481.23 365.88 483.00 365.00 C484.77 364.12 487.13 363.78 488.80 362.70 C490.47 361.62 491.57 359.93 493.00 358.50 C494.43 357.07 496.15 355.43 497.40 354.10 C498.65 352.77 499.43 351.73 500.50 350.50 C501.57 349.27 502.55 348.28 503.80 346.70 C505.05 345.12 506.48 342.53 508.00 341.00 C509.52 339.47 511.23 337.83 512.90 337.50 C514.57 337.17 516.27 338.42 518.00 339.00 C519.73 339.58 521.80 341.33 523.30 341.00 C524.80 340.67 525.68 338.55 527.00 337.00 C528.32 335.45 529.53 334.20 531.20 331.70 C532.87 329.20 534.82 325.05 537.00 322.00 C539.18 318.95 542.13 316.23 544.30 313.40 C546.47 310.57 547.82 307.83 550.00 305.00 C552.18 302.17 555.07 298.98 557.40 296.40 C559.73 293.82 561.82 291.68 564.00 289.50 C566.18 287.32 568.50 285.22 570.50 283.30 C572.50 281.38 574.17 279.75 576.00 278.00 C577.83 276.25 579.50 274.38 581.50 272.80 C583.50 271.22 585.90 269.82 588.00 268.50 C590.10 267.18 592.27 266.32 594.10 264.90 C595.93 263.48 597.47 261.32 599.00 260.00 C600.53 258.68 601.80 257.00 603.30 257.00 C604.80 257.00 606.47 258.47 608.00 260.00 C609.53 261.53 611.17 263.53 612.50 266.20 C613.83 268.87 614.70 272.07 616.00 276.00 C617.30 279.93 618.97 285.30 620.30 289.80 C621.63 294.30 622.68 298.63 624.00 303.00 C625.32 307.37 626.87 312.17 628.20 316.00 C629.53 319.83 630.68 323.15 632.00 326.00 C633.32 328.85 634.77 332.18 636.10 333.10 C637.43 334.02 638.48 332.38 640.00 331.50 C641.52 330.62 643.70 327.88 645.20 327.80 C646.70 327.72 647.62 329.25 649.00 331.00 C650.38 332.75 652.75 337.08 653.50 338.30" fill="none" stroke="#1f6ff0" stroke-width="1.5" stroke-linejoin="round" stroke-linecap="round"/>
<path d="M380.00 347.51 C382.50 347.51 391.33 347.67 395.00 347.51 C398.67 347.35 400.05 346.92 402.00 346.56 C403.95 346.19 405.37 345.40 406.70 345.32 C408.03 345.24 408.93 345.70 410.00 346.08 C411.07 346.46 411.77 346.18 413.10 347.60 C414.43 349.03 416.40 352.24 418.00 354.63 C419.60 357.02 421.37 359.81 422.70 361.95 C424.03 364.08 424.77 365.60 426.00 367.46 C427.23 369.31 428.17 371.45 430.10 373.06 C432.03 374.68 435.62 375.94 437.60 377.15 C439.58 378.35 440.57 379.10 442.00 380.28 C443.43 381.47 444.70 383.01 446.20 384.27 C447.70 385.54 449.40 386.87 451.00 387.88 C452.60 388.90 454.47 390.12 455.80 390.35 C457.13 390.59 457.93 389.99 459.00 389.31 C460.07 388.63 461.03 387.77 462.20 386.27 C463.37 384.76 464.77 382.13 466.00 380.28 C467.23 378.43 468.27 376.82 469.60 375.15 C470.93 373.49 472.57 371.67 474.00 370.31 C475.43 368.95 476.70 368.01 478.20 366.98 C479.70 365.95 481.23 364.97 483.00 364.13 C484.77 363.29 487.13 362.98 488.80 361.95 C490.47 360.92 491.57 359.32 493.00 357.96 C494.43 356.60 496.15 355.04 497.40 353.78 C498.65 352.51 499.43 351.53 500.50 350.36 C501.57 349.19 502.55 348.25 503.80 346.75 C505.05 345.24 506.48 342.79 508.00 341.33 C509.52 339.88 511.23 338.32 512.90 338.01 C514.57 337.69 516.27 338.88 518.00 339.43 C519.73 339.99 521.80 341.65 523.30 341.33 C524.80 341.02 525.68 339.00 527.00 337.53 C528.32 336.06 529.53 334.87 531.20 332.50 C532.87 330.12 534.82 326.18 537.00 323.28 C539.18 320.38 542.13 317.80 544.30 315.11 C546.47 312.42 547.82 309.82 550.00 307.13 C552.18 304.44 555.07 301.42 557.40 298.96 C559.73 296.51 561.82 294.48 564.00 292.41 C566.18 290.33 568.50 288.34 570.50 286.52 C572.50 284.70 574.17 283.15 576.00 281.48 C577.83 279.82 579.50 278.05 581.50 276.54 C583.50 275.04 585.90 273.71 588.00 272.46 C590.10 271.21 592.27 270.38 594.10 269.04 C595.93 267.69 597.47 265.63 599.00 264.38 C600.53 263.13 601.80 261.53 603.30 261.53 C604.80 261.53 606.47 262.93 608.00 264.38 C609.53 265.84 611.17 267.74 612.50 270.27 C613.83 272.81 614.70 275.85 616.00 279.58 C617.30 283.32 618.97 288.42 620.30 292.69 C621.63 296.97 622.68 301.08 624.00 305.23 C625.32 309.38 626.87 313.94 628.20 317.58 C629.53 321.22 630.68 324.38 632.00 327.08 C633.32 329.79 634.77 332.96 636.10 333.83 C637.43 334.70 638.48 333.15 640.00 332.31 C641.52 331.47 643.70 328.87 645.20 328.79 C646.70 328.71 647.62 330.17 649.00 331.83 C650.38 333.50 652.75 337.61 653.50 338.77" fill="none" stroke="#20a0f0" stroke-width="1.5" stroke-linejoin="round" stroke-linecap="round"/>
<path d="M380.00 347.50 C382.50 347.50 391.33 347.67 395.00 347.50 C398.67 347.33 400.05 346.88 402.00 346.50 C403.95 346.12 405.37 345.28 406.70 345.20 C408.03 345.12 408.93 345.50 410.00 346.00 C411.07 346.50 411.77 346.60 413.10 348.20 C414.43 349.80 416.40 353.08 418.00 355.60 C419.60 358.12 421.37 361.05 422.70 363.30 C424.03 365.55 424.77 367.15 426.00 369.10 C427.23 371.05 428.17 373.30 430.10 375.00 C432.03 376.70 435.62 378.03 437.60 379.30 C439.58 380.57 440.57 381.35 442.00 382.60 C443.43 383.85 444.70 385.47 446.20 386.80 C447.70 388.13 449.40 389.53 451.00 390.60 C452.60 391.67 454.47 392.95 455.80 393.20 C457.13 393.45 457.93 392.82 459.00 392.10 C460.07 391.38 461.03 390.48 462.20 388.90 C463.37 387.32 464.77 384.55 466.00 382.60 C467.23 380.65 468.27 378.95 469.60 377.20 C470.93 375.45 472.57 373.53 474.00 372.10 C475.43 370.67 476.70 369.68 478.20 368.60 C479.70 367.52 481.23 366.48 483.00 365.60 C484.77 364.72 487.13 364.38 488.80 363.30 C490.47 362.22 491.57 360.53 493.00 359.10 C494.43 357.67 496.15 356.03 497.40 354.70 C498.65 353.37 499.43 352.43 500.50 351.10 C501.57 349.77 502.55 348.38 503.80 346.70 C505.05 345.02 506.48 342.53 508.00 341.00 C509.52 339.47 511.23 337.83 512.90 337.50 C514.57 337.17 516.27 338.42 518.00 339.00 C519.73 339.58 521.80 341.48 523.30 341.00 C524.80 340.52 525.68 337.80 527.00 336.10 C528.32 334.40 529.53 333.30 531.20 330.80 C532.87 328.30 534.82 324.15 537.00 321.10 C539.18 318.05 542.13 315.33 544.30 312.50 C546.47 309.67 547.82 306.93 550.00 304.10 C552.18 301.27 555.07 298.08 557.40 295.50 C559.73 292.92 561.82 290.78 564.00 288.60 C566.18 286.42 568.50 284.32 570.50 282.40 C572.50 280.48 574.17 278.85 576.00 277.10 C577.83 275.35 579.50 273.19 581.50 271.90 C583.50 270.61 585.90 270.08 588.00 269.33 C590.10 268.59 592.27 268.34 594.10 267.43 C595.93 266.52 597.47 264.81 599.00 263.89 C600.53 262.97 601.80 261.96 603.30 261.92 C604.80 261.87 606.47 262.50 608.00 263.61 C609.53 264.72 611.17 266.26 612.50 268.56 C613.83 270.86 614.70 273.85 616.00 277.39 C617.30 280.93 618.97 285.53 620.30 289.80 C621.63 294.07 622.68 298.63 624.00 303.00 C625.32 307.37 626.87 312.17 628.20 316.00 C629.53 319.83 630.68 323.15 632.00 326.00 C633.32 328.85 634.77 332.18 636.10 333.10 C637.43 334.02 638.48 332.38 640.00 331.50 C641.52 330.62 643.70 327.88 645.20 327.80 C646.70 327.72 647.62 329.25 649.00 331.00 C650.38 332.75 652.75 337.08 653.50 338.30" fill="none" stroke="#4a3fe0" stroke-width="1.5" stroke-linejoin="round" stroke-linecap="round"/>
<path d="M380.00 347.50 C382.50 347.50 391.33 347.63 395.00 347.50 C398.67 347.37 400.05 347.03 402.00 346.70 C403.95 346.37 405.37 345.58 406.70 345.50 C408.03 345.42 408.93 345.85 410.00 346.20 C411.07 346.55 411.77 346.47 413.10 347.60 C414.43 348.73 416.40 351.10 418.00 353.00 C419.60 354.90 420.68 356.50 422.70 359.00 C424.72 361.50 427.22 365.67 430.10 368.00 C432.98 370.33 437.35 371.58 440.00 373.00 C442.65 374.42 443.37 375.20 446.00 376.50 C448.63 377.80 452.97 380.72 455.80 380.80 C458.63 380.88 459.98 379.48 463.00 377.00 C466.02 374.52 470.73 368.40 473.90 365.90 C477.07 363.40 479.15 363.07 482.00 362.00 C484.85 360.93 488.50 360.83 491.00 359.50 C493.50 358.17 494.87 356.00 497.00 354.00 C499.13 352.00 501.80 349.33 503.80 347.50 C505.80 345.67 507.48 344.08 509.00 343.00 C510.52 341.92 511.40 341.17 512.90 341.00 C514.40 340.83 516.27 341.58 518.00 342.00 C519.73 342.42 521.10 344.33 523.30 343.50 C525.50 342.67 527.75 340.25 531.20 337.00 C534.65 333.75 539.63 328.37 544.00 324.00 C548.37 319.63 553.07 314.47 557.40 310.80 C561.73 307.13 565.98 304.63 570.00 302.00 C574.02 299.37 577.50 297.50 581.50 295.00 C585.50 292.50 590.23 289.40 594.00 287.00 C597.77 284.60 601.10 280.10 604.10 280.60 C607.10 281.10 609.30 285.85 612.00 290.00 C614.70 294.15 617.97 300.50 620.30 305.50 C622.63 310.50 624.25 315.85 626.00 320.00 C627.75 324.15 629.13 328.07 630.80 330.40 C632.47 332.73 633.60 333.90 636.00 334.00 C638.40 334.10 642.87 331.00 645.20 331.00 C647.53 331.00 648.62 332.67 650.00 334.00 C651.38 335.33 652.92 338.17 653.50 339.00" fill="none" stroke="#20b8b0" stroke-width="1.5" stroke-linejoin="round" stroke-linecap="round"/>
<path d="M380.00 347.50 C382.50 347.50 390.55 347.75 395.00 347.50 C399.45 347.25 403.68 345.98 406.70 346.00 C409.72 346.02 411.22 346.77 413.10 347.60 C414.98 348.43 416.40 349.85 418.00 351.00 C419.60 352.15 420.68 353.27 422.70 354.50 C424.72 355.73 426.88 357.15 430.10 358.40 C433.32 359.65 437.90 360.87 442.00 362.00 C446.10 363.13 451.20 365.03 454.70 365.20 C458.20 365.37 459.80 364.13 463.00 363.00 C466.20 361.87 470.73 359.57 473.90 358.40 C477.07 357.23 479.15 356.72 482.00 356.00 C484.85 355.28 488.33 354.93 491.00 354.10 C493.67 353.27 495.87 352.10 498.00 351.00 C500.13 349.90 501.32 348.67 503.80 347.50 C506.28 346.33 509.65 344.42 512.90 344.00 C516.15 343.58 520.25 345.30 523.30 345.00 C526.35 344.70 527.75 343.70 531.20 342.20 C534.65 340.70 539.63 337.97 544.00 336.00 C548.37 334.03 553.07 332.15 557.40 330.40 C561.73 328.65 565.98 327.02 570.00 325.50 C574.02 323.98 577.50 322.88 581.50 321.30 C585.50 319.72 590.23 317.67 594.00 316.00 C597.77 314.33 601.43 311.63 604.10 311.30 C606.77 310.97 607.73 312.12 610.00 314.00 C612.27 315.88 615.37 319.77 617.70 322.60 C620.03 325.43 621.82 328.17 624.00 331.00 C626.18 333.83 628.63 337.93 630.80 339.60 C632.97 341.27 634.60 341.02 637.00 341.00 C639.40 340.98 642.45 339.17 645.20 339.50 C647.95 339.83 652.12 342.42 653.50 343.00" fill="none" stroke="#20c070" stroke-width="1.5" stroke-linejoin="round" stroke-linecap="round"/>
<path d="M380.00 347.60 C385.52 347.60 405.98 347.28 413.10 347.60 C420.22 347.92 419.87 348.93 422.70 349.50 C425.53 350.07 426.88 350.50 430.10 351.00 C433.32 351.50 437.90 352.17 442.00 352.50 C446.10 352.83 450.87 353.08 454.70 353.00 C458.53 352.92 461.45 352.33 465.00 352.00 C468.55 351.67 471.83 351.42 476.00 351.00 C480.17 350.58 485.37 350.00 490.00 349.50 C494.63 349.00 496.93 348.55 503.80 348.00 C510.67 347.45 522.27 347.17 531.20 346.20 C540.13 345.23 549.02 343.22 557.40 342.20 C565.78 341.18 573.63 340.70 581.50 340.10 C589.37 339.50 598.57 338.25 604.60 338.60 C610.63 338.95 613.77 340.80 617.70 342.20 C621.63 343.60 622.23 346.07 628.20 347.00 C634.17 347.93 649.28 347.67 653.50 347.80" fill="none" stroke="#f0a800" stroke-width="1.5" stroke-linejoin="round" stroke-linecap="round"/>
<path d="M380.00 347.90 C425.58 347.90 607.92 347.90 653.50 347.90" fill="none" stroke="#ffd400" stroke-width="1.7" stroke-linejoin="round" stroke-linecap="round"/>
<line x1="77.70" y1="29.40" x2="77.70" y2="414.50" stroke="#000" stroke-width="2.1" stroke-dasharray="6.3 5.15"/>
<line x1="181.60" y1="29.40" x2="181.60" y2="414.50" stroke="#000" stroke-width="2.1" stroke-dasharray="6.3 5.15"/>
<line x1="430.20" y1="7.30" x2="430.20" y2="397.50" stroke="#000" stroke-width="2.1" stroke-dasharray="6.3 5.15"/>
<line x1="462.90" y1="7.30" x2="462.90" y2="397.50" stroke="#000" stroke-width="2.1" stroke-dasharray="6.3 5.15"/>
<line x1="511.60" y1="7.30" x2="511.60" y2="397.50" stroke="#000" stroke-width="2.1" stroke-dasharray="6.3 5.15"/>
<line x1="581.40" y1="7.30" x2="581.40" y2="403.50" stroke="#000" stroke-width="2.1" stroke-dasharray="6.3 5.15"/>
<line x1="605.10" y1="7.30" x2="605.10" y2="403.50" stroke="#000" stroke-width="2.1" stroke-dasharray="6.3 5.15"/>
<text x="147.10" y="20.00" font-size="12.2" font-weight="bold" font-family="Liberation Sans" text-anchor="start" textLength="61.5" lengthAdjust="spacingAndGlyphs" >Time (ps)</text>
<line x1="145.10" y1="31.10" x2="178.80" y2="31.10" stroke="#4a3fe0" stroke-width="1.6"/>
<text x="181.20" y="34.80" font-size="12.2" font-weight="bold" font-family="Liberation Sans" text-anchor="start" textLength="21.6" lengthAdjust="spacingAndGlyphs" >0.4</text>
<line x1="145.10" y1="46.40" x2="178.80" y2="46.40" stroke="#1f6ff0" stroke-width="1.6"/>
<text x="181.20" y="50.10" font-size="12.2" font-weight="bold" font-family="Liberation Sans" text-anchor="start" textLength="21.6" lengthAdjust="spacingAndGlyphs" >1.0</text>
<line x1="145.10" y1="61.20" x2="178.80" y2="61.20" stroke="#1ab0e8" stroke-width="1.6"/>
<text x="181.20" y="64.90" font-size="12.2" font-weight="bold" font-family="Liberation Sans" text-anchor="start" textLength="14.4" lengthAdjust="spacingAndGlyphs" >10</text>
<line x1="205.70" y1="31.10" x2="238.90" y2="31.10" stroke="#20c890" stroke-width="1.6"/>
<text x="242.20" y="34.80" font-size="12.2" font-weight="bold" font-family="Liberation Sans" text-anchor="start" textLength="15.2" lengthAdjust="spacingAndGlyphs" >30</text>
<line x1="205.70" y1="46.40" x2="238.90" y2="46.40" stroke="#c8ac00" stroke-width="1.6"/>
<text x="242.20" y="50.10" font-size="12.2" font-weight="bold" font-family="Liberation Sans" text-anchor="start" textLength="22.799999999999997" lengthAdjust="spacingAndGlyphs" >200</text>
<line x1="201.70" y1="61.20" x2="234.90" y2="61.20" stroke="#ffd000" stroke-width="1.6"/>
<text x="238.50" y="64.90" font-size="12.2" font-weight="bold" font-family="Liberation Sans" text-anchor="start" textLength="30.4" lengthAdjust="spacingAndGlyphs" >3000</text>
<text x="573.90" y="107.60" font-size="12.2" font-weight="bold" font-family="Liberation Sans" text-anchor="start" textLength="60.5" lengthAdjust="spacingAndGlyphs" >Time (ps)</text>
<line x1="572.00" y1="118.80" x2="605.00" y2="118.80" stroke="#4a3fe0" stroke-width="1.6"/>
<text x="608.70" y="122.50" font-size="12.2" font-weight="bold" font-family="Liberation Sans" text-anchor="start" textLength="20.3" lengthAdjust="spacingAndGlyphs" >0.5</text>
<line x1="572.00" y1="134.00" x2="605.00" y2="134.00" stroke="#20a0f0" stroke-width="1.6"/>
<text x="608.70" y="137.70" font-size="12.2" font-weight="bold" font-family="Liberation Sans" text-anchor="start" textLength="22.799999999999997" lengthAdjust="spacingAndGlyphs" >300</text>
<line x1="572.00" y1="149.40" x2="605.00" y2="149.40" stroke="#20c070" stroke-width="1.6"/>
<text x="608.70" y="153.10" font-size="12.2" font-weight="bold" font-family="Liberation Sans" text-anchor="start" textLength="30.4" lengthAdjust="spacingAndGlyphs" >1000</text>
<line x1="572.00" y1="164.80" x2="605.00" y2="164.80" stroke="#ffc400" stroke-width="1.6"/>
<text x="608.70" y="168.50" font-size="12.2" font-weight="bold" font-family="Liberation Sans" text-anchor="start" textLength="30.4" lengthAdjust="spacingAndGlyphs" >3000</text>
<text x="57.30" y="254.80" font-size="12.2" font-weight="bold" font-family="Liberation Sans" text-anchor="start" textLength="61.5" lengthAdjust="spacingAndGlyphs" >Time (ps)</text>
<line x1="55.50" y1="267.30" x2="81.10" y2="267.30" stroke="#4a3fe0" stroke-width="1.6"/>
<text x="85.70" y="271.00" font-size="12.2" font-weight="bold" font-family="Liberation Sans" text-anchor="start" textLength="19.8" lengthAdjust="spacingAndGlyphs" >0.5</text>
<line x1="55.50" y1="282.30" x2="81.10" y2="282.30" stroke="#1f6ff0" stroke-width="1.6"/>
<text x="85.70" y="286.00" font-size="12.2" font-weight="bold" font-family="Liberation Sans" text-anchor="start" textLength="14.8" lengthAdjust="spacingAndGlyphs" >10</text>
<line x1="55.50" y1="297.40" x2="81.10" y2="297.40" stroke="#20a0f0" stroke-width="1.6"/>
<text x="85.70" y="301.10" font-size="12.2" font-weight="bold" font-family="Liberation Sans" text-anchor="start" textLength="14.8" lengthAdjust="spacingAndGlyphs" >50</text>
<line x1="108.50" y1="267.30" x2="135.10" y2="267.30" stroke="#20b8b0" stroke-width="1.6"/>
<text x="139.60" y="271.00" font-size="12.2" font-weight="bold" font-family="Liberation Sans" text-anchor="start" textLength="22.5" lengthAdjust="spacingAndGlyphs" >150</text>
<line x1="104.90" y1="282.30" x2="131.40" y2="282.30" stroke="#20c070" stroke-width="1.6"/>
<text x="135.00" y="286.00" font-size="12.2" font-weight="bold" font-family="Liberation Sans" text-anchor="start" textLength="22.5" lengthAdjust="spacingAndGlyphs" >400</text>
<line x1="104.90" y1="297.40" x2="131.40" y2="297.40" stroke="#f0a800" stroke-width="1.6"/>
<text x="135.00" y="301.10" font-size="12.2" font-weight="bold" font-family="Liberation Sans" text-anchor="start" textLength="30.0" lengthAdjust="spacingAndGlyphs" >1000</text>
<line x1="103.00" y1="313.00" x2="129.60" y2="313.00" stroke="#ffd000" stroke-width="1.6"/>
<text x="133.20" y="316.70" font-size="12.2" font-weight="bold" font-family="Liberation Sans" text-anchor="start" textLength="30.0" lengthAdjust="spacingAndGlyphs" >3000</text>
<text x="385.70" y="250.80" font-size="12.2" font-weight="bold" font-family="Liberation Sans" text-anchor="start" textLength="60.5" lengthAdjust="spacingAndGlyphs" >Time (ps)</text>
<line x1="384.10" y1="262.30" x2="417.10" y2="262.30" stroke="#4a3fe0" stroke-width="1.6"/>
<text x="420.80" y="266.00" font-size="12.2" font-weight="bold" font-family="Liberation Sans" text-anchor="start" textLength="19.6" lengthAdjust="spacingAndGlyphs" >0.5</text>
<line x1="384.10" y1="276.70" x2="417.10" y2="276.70" stroke="#1f6ff0" stroke-width="1.6"/>
<text x="420.80" y="280.40" font-size="12.2" font-weight="bold" font-family="Liberation Sans" text-anchor="start" textLength="14.0" lengthAdjust="spacingAndGlyphs" >10</text>
<line x1="384.10" y1="292.10" x2="417.10" y2="292.10" stroke="#20a0f0" stroke-width="1.6"/>
<text x="420.80" y="295.80" font-size="12.2" font-weight="bold" font-family="Liberation Sans" text-anchor="start" textLength="14.0" lengthAdjust="spacingAndGlyphs" >50</text>
<line x1="444.90" y1="262.30" x2="477.40" y2="262.30" stroke="#20b8b0" stroke-width="1.6"/>
<text x="482.00" y="266.00" font-size="12.2" font-weight="bold" font-family="Liberation Sans" text-anchor="start" textLength="22.200000000000003" lengthAdjust="spacingAndGlyphs" >150</text>
<line x1="440.30" y1="276.70" x2="473.70" y2="276.70" stroke="#20c070" stroke-width="1.6"/>
<text x="477.80" y="280.40" font-size="12.2" font-weight="bold" font-family="Liberation Sans" text-anchor="start" textLength="22.200000000000003" lengthAdjust="spacingAndGlyphs" >400</text>
<line x1="440.90" y1="292.10" x2="472.80" y2="292.10" stroke="#f0a800" stroke-width="1.6"/>
<text x="477.80" y="295.80" font-size="12.2" font-weight="bold" font-family="Liberation Sans" text-anchor="start" textLength="29.6" lengthAdjust="spacingAndGlyphs" >1000</text>
<line x1="439.40" y1="307.70" x2="472.80" y2="307.70" stroke="#ffd000" stroke-width="1.6"/>
<text x="477.00" y="311.40" font-size="12.2" font-weight="bold" font-family="Liberation Sans" text-anchor="start" textLength="29.6" lengthAdjust="spacingAndGlyphs" >3000</text>
<text x="129.60" y="218.70" font-size="12.2" font-weight="bold" font-family="Liberation Sans" text-anchor="start" textLength="112" lengthAdjust="spacingAndGlyphs" >Wavelength (nm)</text>
<text x="461.60" y="217.80" font-size="12.2" font-weight="bold" font-family="Liberation Sans" text-anchor="start" textLength="112" lengthAdjust="spacingAndGlyphs" >Wavelength (nm)</text>
<text x="129.50" y="449.60" font-size="12.2" font-weight="bold" font-family="Liberation Sans" text-anchor="start" textLength="112.5" lengthAdjust="spacingAndGlyphs" >Wavelength (nm)</text>
<text x="460.60" y="455.60" font-size="12.2" font-weight="bold" font-family="Liberation Sans" text-anchor="start" textLength="112.5" lengthAdjust="spacingAndGlyphs" >Wavelength (nm)</text>
<text x="0" y="0" font-size="12.2" font-weight="bold" font-family="Liberation Sans" text-anchor="middle" textLength="34.6" lengthAdjust="spacingAndGlyphs" transform="translate(18.50 90.35) rotate(-90)"><tspan font-weight="normal">&#916;</tspan>mOD</text>
<text x="0" y="0" font-size="12.2" font-weight="bold" font-family="Liberation Sans" text-anchor="middle" textLength="34.6" lengthAdjust="spacingAndGlyphs" transform="translate(355.10 89.60) rotate(-90)"><tspan font-weight="normal">&#916;</tspan>mOD</text>
<text x="0" y="0" font-size="12.2" font-weight="bold" font-family="Liberation Sans" text-anchor="middle" textLength="34.6" lengthAdjust="spacingAndGlyphs" transform="translate(18.50 323.30) rotate(-90)"><tspan font-weight="normal">&#916;</tspan>mOD</text>
<text x="0" y="0" font-size="12.2" font-weight="bold" font-family="Liberation Sans" text-anchor="middle" textLength="34.6" lengthAdjust="spacingAndGlyphs" transform="translate(356.60 320.35) rotate(-90)"><tspan font-weight="normal">&#916;</tspan>mOD</text>
<text transform="translate(1.60 15.20) scale(1.25 1)" font-size="21" font-family="Liberation Serif">(a)</text>
<text transform="translate(338.10 15.20) scale(1.25 1)" font-size="21" font-family="Liberation Serif">(b)</text>
<text transform="translate(0.00 246.30) scale(1.25 1)" font-size="21" font-family="Liberation Serif">(c)</text>
<text transform="translate(342.10 245.50) scale(1.25 1)" font-size="21" font-family="Liberation Serif">(d)</text>
</svg></body></html>
